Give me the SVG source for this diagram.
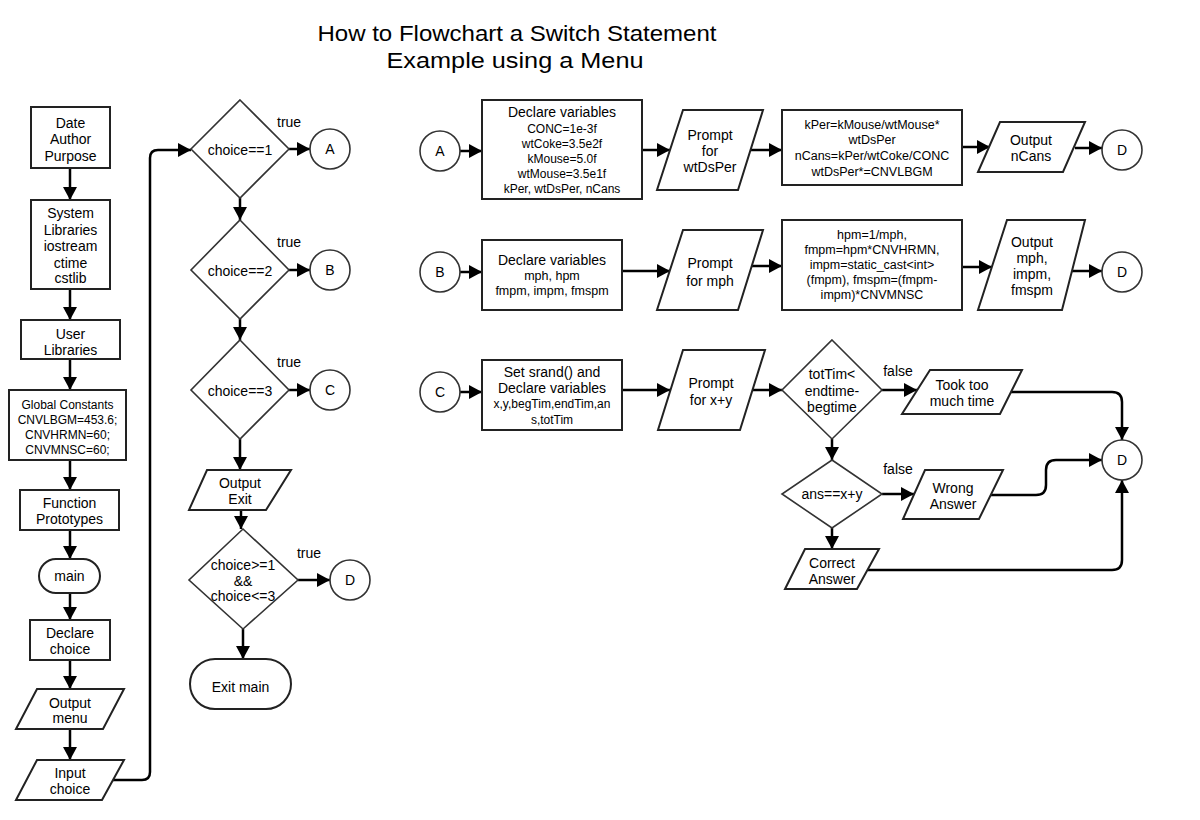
<svg xmlns="http://www.w3.org/2000/svg" width="1200" height="820" viewBox="0 0 1200 820">
<style>
text{font-family:"Liberation Sans",Arial,sans-serif;fill:#000;text-anchor:middle;font-size:14px}
.s{font-size:12px}
.m{font-size:12.5px}
.l{text-anchor:start}
.box{fill:#fff;stroke:#222;stroke-width:2}
.dia{fill:#fff;stroke:#333;stroke-width:1.6}
.cir{fill:#fff;stroke:#333;stroke-width:1.6}
.con{fill:none;stroke:#000;stroke-width:2.5;marker-end:url(#ah)}
</style>
<defs>
<marker id="ah" markerUnits="userSpaceOnUse" markerWidth="14" markerHeight="14" refX="13" refY="7" orient="auto">
<path d="M0,0 L13,7 L0,14 z" fill="#000"/>
</marker>
</defs>
<rect width="1200" height="820" fill="#fff"/>
<g id="title">
<text x="517" y="41" style="font-size:22px" textLength="399" lengthAdjust="spacingAndGlyphs">How to Flowchart a Switch Statement</text>
<text x="515" y="68" style="font-size:22px" textLength="257" lengthAdjust="spacingAndGlyphs">Example using a Menu</text>
</g>
<g id="connectors">
<path class="con" d="M70,168 V200"/>
<path class="con" d="M70,289 V320"/>
<path class="con" d="M70,359 V390"/>
<path class="con" d="M70,460 V490"/>
<path class="con" d="M70,530 V559"/>
<path class="con" d="M70,593 V620"/>
<path class="con" d="M70,660 V689"/>
<path class="con" d="M70,729 V760"/>
<path class="con" d="M111,780 H142 Q150,780 150,772 V158 Q150,150 158,150 H191"/>
<path class="con" d="M289,149 H310"/>
<path class="con" d="M240,198 V220"/>
<path class="con" d="M289,270 H310"/>
<path class="con" d="M240,319 V340"/>
<path class="con" d="M289,390 H310"/>
<path class="con" d="M240,439 V470"/>
<path class="con" d="M241,510 V529"/>
<path class="con" d="M298,580 H330"/>
<path class="con" d="M243,629 V659"/>
<path class="con" d="M460,151 H482"/>
<path class="con" d="M642,150 H670"/>
<path class="con" d="M751,150 H782"/>
<path class="con" d="M962,147 H990"/>
<path class="con" d="M1075,148 H1102"/>
<path class="con" d="M460,272 H482"/>
<path class="con" d="M622,271 H670"/>
<path class="con" d="M752,266 H782"/>
<path class="con" d="M962,267 H992"/>
<path class="con" d="M1072,271 H1102"/>
<path class="con" d="M460,392 H482"/>
<path class="con" d="M622,390 H670"/>
<path class="con" d="M752,390 H782"/>
<path class="con" d="M882,390 H917"/>
<path class="con" d="M1010,392 H1112 Q1122,392 1122,402 V440"/>
<path class="con" d="M832,439 V460"/>
<path class="con" d="M882,494 H914"/>
<path class="con" d="M991,495 H1036 Q1046,495 1046,485 V470 Q1046,460 1056,460 H1102"/>
<path class="con" d="M832,528 V549"/>
<path class="con" d="M868,570 H1112 Q1122,570 1122,560 V480"/>
</g>
<g id="n_header"><rect class="box" x="31" y="107" width="79" height="61"/><text x="70.5" y="128">Date</text><text x="70.5" y="144">Author</text><text x="70.5" y="161">Purpose</text></g>
<g id="n_syslib"><rect class="box" x="31" y="200" width="79" height="89"/><text x="70.5" y="218">System</text><text x="70.5" y="235">Libraries</text><text x="70.5" y="251">iostream</text><text x="70.5" y="268">ctime</text><text x="70.5" y="283">cstlib</text></g>
<g id="n_userlib"><rect class="box" x="21" y="320" width="99" height="39"/><text x="70.5" y="339">User</text><text x="70.5" y="355">Libraries</text></g>
<g id="n_global"><rect class="box" x="9" y="390" width="117" height="70"/><text class="s" x="67.5" y="409">Global Constants</text><text class="s" x="67.5" y="424">CNVLBGM=453.6;</text><text class="s" x="67.5" y="439">CNVHRMN=60;</text><text class="s" x="67.5" y="454">CNVMNSC=60;</text></g>
<g id="n_proto"><rect class="box" x="20" y="490" width="99" height="40"/><text x="69.5" y="508">Function</text><text x="69.5" y="524">Prototypes</text></g>
<g id="n_main"><rect class="box" x="39" y="559" width="61" height="34" rx="17"/><text x="69.5" y="581">main</text></g>
<g id="n_declare"><rect class="box" x="30" y="620" width="80" height="40"/><text x="70" y="638">Declare</text><text x="70" y="654">choice</text></g>
<g id="n_outmenu"><polygon class="box" points="37,689 124,689 103,729 16,729"/><text x="70" y="708">Output</text><text x="70" y="723">menu</text></g>
<g id="n_input"><polygon class="box" points="37,760 124,760 102,800 16,800"/><text x="70" y="778">Input</text><text x="70" y="794">choice</text></g>
<g id="n_c1"><polygon class="dia" points="240,100 289,149 240,198 191,149"/><text x="240" y="155">choice==1</text><text class="l" x="277" y="127">true</text></g>
<g id="n_A0"><circle class="cir" cx="330" cy="149" r="20"/><text x="330" y="154">A</text></g>
<g id="n_c2"><polygon class="dia" points="240,220 289,270 240,319 191,270"/><text x="240" y="276">choice==2</text><text class="l" x="277" y="247">true</text></g>
<g id="n_B0"><circle class="cir" cx="330" cy="270" r="20"/><text x="330" y="275">B</text></g>
<g id="n_c3"><polygon class="dia" points="240,340 289,390 240,439 191,390"/><text x="240" y="396">choice==3</text><text class="l" x="277" y="367">true</text></g>
<g id="n_C0"><circle class="cir" cx="330" cy="390" r="20"/><text x="330" y="395">C</text></g>
<g id="n_outexit"><polygon class="box" points="207,470 291,470 266,510 189,510"/><text x="240" y="488">Output</text><text x="240" y="504">Exit</text></g>
<g id="n_c4"><polygon class="dia" points="243,529 298,580 243,629 189,580"/><text x="243" y="570">choice&gt;=1</text><text x="243" y="586">&amp;&amp;</text><text x="243" y="601">choice&lt;=3</text><text x="309" y="558">true</text></g>
<g id="n_D0"><circle class="cir" cx="350" cy="580" r="20"/><text x="350" y="585">D</text></g>
<g id="n_exit"><rect class="box" x="190" y="659" width="101" height="50" rx="25"/><text x="240.5" y="692">Exit main</text></g>
<g id="n_A"><circle class="cir" cx="440" cy="151" r="20"/><text x="440" y="156">A</text></g>
<g id="n_A1"><rect class="box" x="482" y="100" width="160" height="99"/><text x="562" y="117">Declare variables</text><text class="s" x="562" y="133">CONC=1e-3f</text><text class="s" x="562" y="148">wtCoke=3.5e2f</text><text class="s" x="562" y="163">kMouse=5.0f</text><text class="s" x="562" y="178">wtMouse=3.5e1f</text><text class="s" x="562" y="193">kPer, wtDsPer, nCans</text></g>
<g id="n_A2"><polygon class="box" points="683,110 763,110 738,190 657,190"/><text x="710" y="140">Prompt</text><text x="710" y="156">for</text><text x="710" y="172">wtDsPer</text></g>
<g id="n_A3"><rect class="box" x="782" y="110" width="180" height="75"/><text class="m" x="872" y="129">kPer=kMouse/wtMouse*</text><text class="m" x="872" y="144">wtDsPer</text><text class="m" x="872" y="160">nCans=kPer/wtCoke/CONC</text><text class="m" x="872" y="176">wtDsPer*=CNVLBGM</text></g>
<g id="n_A4"><polygon class="box" points="1000,122 1085,122 1063,172 978,172"/><text x="1031" y="145">Output</text><text x="1031" y="161">nCans</text></g>
<g id="n_AD"><circle class="cir" cx="1122" cy="150" r="20"/><text x="1122" y="155">D</text></g>
<g id="n_B"><circle class="cir" cx="440" cy="272" r="20"/><text x="440" y="277">B</text></g>
<g id="n_B1"><rect class="box" x="482" y="240" width="140" height="70"/><text x="552" y="265">Declare variables</text><text class="m" x="552" y="280">mph, hpm</text><text class="m" x="552" y="295">fmpm, impm, fmspm</text></g>
<g id="n_B2"><polygon class="box" points="683,230 763,230 738,310 657,310"/><text x="710" y="268">Prompt</text><text x="710" y="286">for mph</text></g>
<g id="n_B3"><rect class="box" x="782" y="220" width="180" height="90"/><text class="m" x="872" y="239">hpm=1/mph,</text><text class="m" x="872" y="254">fmpm=hpm*CNVHRMN,</text><text class="m" x="872" y="269">impm=static_cast&lt;int&gt;</text><text class="m" x="872" y="284">(fmpm), fmspm=(fmpm-</text><text class="m" x="872" y="299">impm)*CNVMNSC</text></g>
<g id="n_B4"><polygon class="box" points="1007,220 1085,220 1062,310 978,310"/><text x="1032" y="247">Output</text><text x="1032" y="263">mph,</text><text x="1032" y="279">impm,</text><text x="1032" y="295">fmspm</text></g>
<g id="n_BD"><circle class="cir" cx="1122" cy="272" r="20"/><text x="1122" y="277">D</text></g>
<g id="n_C"><circle class="cir" cx="440" cy="392" r="20"/><text x="440" y="397">C</text></g>
<g id="n_C1"><rect class="box" x="482" y="360" width="140" height="70"/><text x="552" y="377">Set srand() and</text><text x="552" y="393">Declare variables</text><text class="s" x="552" y="408">x,y,begTim,endTim,an</text><text class="s" x="552" y="424">s,totTim</text></g>
<g id="n_C2"><polygon class="box" points="683,350 765,350 740,430 658,430"/><text x="711" y="388">Prompt</text><text x="711" y="405">for x+y</text></g>
<g id="n_C3"><polygon class="dia" points="832,340 882,390 832,439 782,390"/><text x="832" y="379">totTim&lt;</text><text x="832" y="396">endtime-</text><text x="832" y="412">begtime</text><text x="898" y="376">false</text></g>
<g id="n_C4"><polygon class="box" points="930,370 1022,370 1000,414 902,414"/><text x="962" y="390">Took too</text><text x="962" y="406">much time</text></g>
<g id="n_C5"><polygon class="dia" points="832,460 882,494 832,528 782,494"/><text x="832" y="499">ans==x+y</text><text x="898" y="474">false</text></g>
<g id="n_C6"><polygon class="box" points="925,470 1003,470 979,519 903,519"/><text x="953" y="493">Wrong</text><text x="953" y="509">Answer</text></g>
<g id="n_C7"><polygon class="box" points="805,549 879,549 857,589 785,589"/><text x="832" y="568">Correct</text><text x="832" y="584">Answer</text></g>
<g id="n_CD"><circle class="cir" cx="1122" cy="460" r="20"/><text x="1122" y="465">D</text></g>
</svg>
